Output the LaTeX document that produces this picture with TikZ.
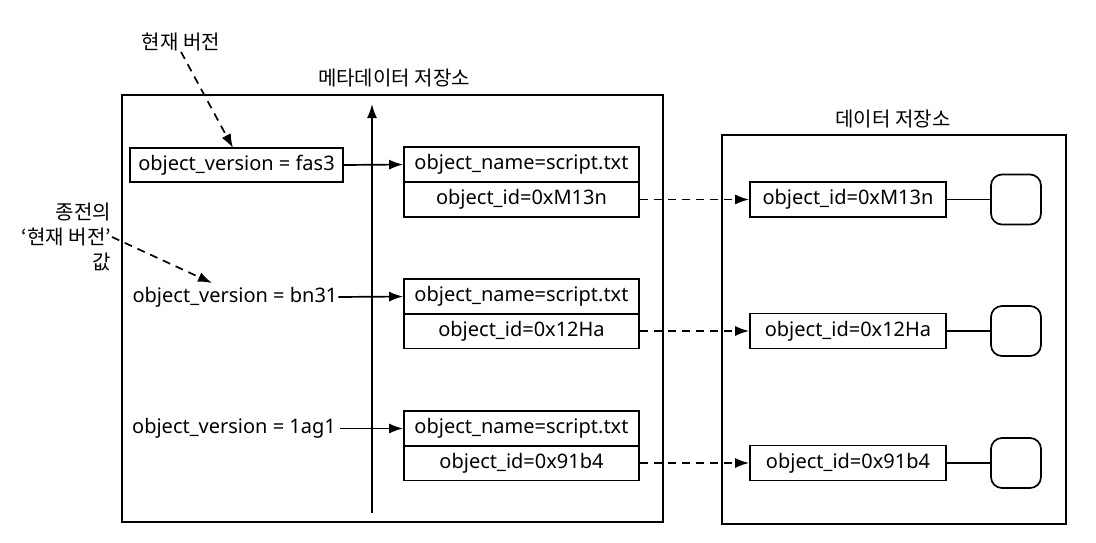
\documentclass[tikz,border=0pt]{standalone}
\usepackage{fontspec}
\setmainfont{Noto Sans}
\newfontfamily\kr{Noto Sans CJK KR}
\usetikzlibrary{arrows.meta}

\begin{document}
\begin{tikzpicture}
  [x=1pt,y=-1pt,line width=1.7pt,>={Latex[length=14pt,width=10pt]},
   every node/.style={font=\fontsize{20}{24}\selectfont,inner sep=0pt},
   field/.style={draw,minimum width=235pt,minimum height=35pt},
   blob/.style={draw,minimum width=196pt,minimum height=35pt},
   store/.style={draw,rounded corners=11pt,minimum size=50pt},
   note/.style={font=\kr\fontsize{20}{25}\selectfont},
   ptr/.style={->,dash pattern=on 8pt off 6pt}]
  \useasboundingbox (0,0) rectangle (1096,542);

  % containers
  \node[draw,minimum width=541pt,minimum height=427pt] (meta) at (392.5,308.5) {};
  \node[draw,minimum width=344pt,minimum height=389pt] (data) at (894,329.5) {};
  \node[note] (metat) at (394,78) {메타데이터 저장소};
  \node[note] (datat) at (893,119) {데이터 저장소};

  % notes
  \node[note] (curt) at (181,42) {현재 버전};
  \node[note,align=right,anchor=east] (oldt) at (112,237) {종전의\\‘현재 버전’\\값};
  \coordinate (cur) at (233,148);
  \coordinate (old) at (212,283);
  \draw[ptr] (curt.south) -- (cur);
  \draw[ptr] (oldt.east) -- (old);

  % time axis
  \coordinate (ab) at (372,513);
  \coordinate (at) at (372,104);
  \draw[->] (ab) -- (at);

  % versions
  \node[draw,minimum width=213pt,minimum height=34pt] (v1) at (236.5,165) {object\_version = fas3};
  \node (v2) at (235,297) {object\_version = bn31};
  \node[outer xsep=4pt] (v3) at (234,428.5) {object\_version = 1ag1};

  \node[field] (nm1) at (521.5,164.5) {object\_name=script.txt};
  \node[field] (id1) at (521.5,199.5) {object\_id=0xM13n};
  \node[field] (nm2) at (521.5,296.5) {object\_name=script.txt};
  \node[field] (id2) at (521.5,331) {object\_id=0x12Ha};
  \node[field] (nm3) at (521.5,428.5) {object\_name=script.txt};
  \node[field] (id3) at (521.5,463) {object\_id=0x91b4};

  % data
  \node[blob] (d1) at (848,199.5) {object\_id=0xM13n};
  \node[blob] (d2) at (848,331) {object\_id=0x12Ha};
  \node[blob] (d3) at (848,463) {object\_id=0x91b4};
  \node[store] (s1) at (1016,199.5) {};
  \node[store] (s2) at (1016,331) {};
  \node[store] (s3) at (1016,463) {};

  \draw[->] (v1.east) -- (nm1.west);
  \draw[->] (v2.east) -- (nm2.west);
  \draw[->] (v3.east) -- (nm3.west);
  \draw[ptr] (id1) -- (d1);
  \draw[ptr] (id2) -- (d2);
  \draw[ptr] (id3) -- (d3);
  \draw (d1) -- (s1);
  \draw (d2) -- (s2);
  \draw (d3) -- (s3);

\end{tikzpicture}
\end{document}
